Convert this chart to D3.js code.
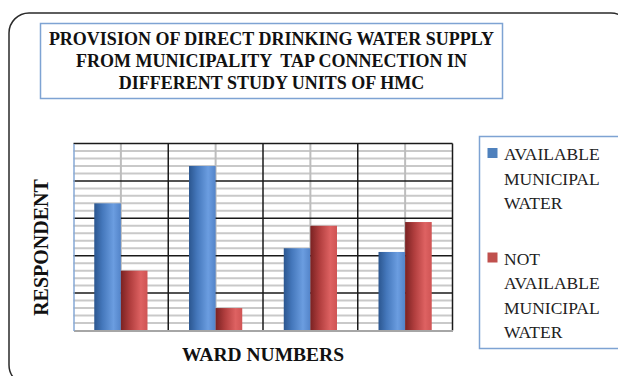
<!DOCTYPE html>
<html>
<head>
<meta charset="utf-8">
<script src="https://cdn.jsdelivr.net/npm/d3@7"></script>
<style>
  html, body { margin: 0; padding: 0; background: #fff; }
  svg { display: block; }
  .title-line { white-space: pre; }
</style>
</head>
<body>
<svg id="chart" width="618" height="376"></svg>
<script>
// Ward categories (no tick labels are printed on the axis)
const wards = ["Ward 1", "Ward 2", "Ward 3", "Ward 4"];
const seriesNames = ["AVAILABLE MUNICIPAL WATER", "NOT AVAILABLE MUNICIPAL WATER"];
// Share of respondents (%) per ward
const available = [68, 88, 44, 42];
const notAvailable = [32, 12, 56, 58];
const yMax = 100;
const majorStep = 20;
const minorStep = 4;

const titleLines = [
  "PROVISION OF DIRECT DRINKING WATER SUPPLY",
  "FROM MUNICIPALITY  TAP CONNECTION IN",
  "DIFFERENT STUDY UNITS OF HMC"
];
const legendLines = [
  ["AVAILABLE", "MUNICIPAL", "WATER"],
  ["NOT", "AVAILABLE", "MUNICIPAL", "WATER"]
];

const svg = d3.select("#chart");
const defs = svg.append("defs");

// Cylinder-like horizontal shading for the bars
function shade(id, stops) {
  const g = defs.append("linearGradient").attr("id", id)
    .attr("x1", "0%").attr("x2", "100%").attr("y1", "0%").attr("y2", "0%");
  stops.forEach(([o, c]) => g.append("stop").attr("offset", o).attr("stop-color", c));
}
shade("gBlue", [["0%", "#2b568f"], ["30%", "#4477bb"], ["72%", "#6b9de0"], ["100%", "#5384c9"]]);
shade("gRed", [["0%", "#7a2222"], ["35%", "#b13e3e"], ["75%", "#de6262"], ["100%", "#cf5454"]]);
const fills = ["url(#gBlue)", "url(#gRed)"];
const swatch = ["#4f81bd", "#c0504d"];

// Outer rounded frame
svg.append("rect")
  .attr("x", 9).attr("y", 13).attr("width", 622).attr("height", 372)
  .attr("rx", 20).attr("ry", 20)
  .attr("fill", "none").attr("stroke", "#2a2a2a").attr("stroke-width", 1.5);

// Title box
svg.append("rect")
  .attr("x", 40.5).attr("y", 23.5).attr("width", 462).attr("height", 75)
  .attr("fill", "#fff").attr("stroke", "#7ea3d3").attr("stroke-width", 1.5);
svg.append("g").selectAll("text").data(titleLines).join("text")
  .attr("class", "title-line")
  .attr("x", 271.5).attr("y", (d, i) => 45 + i * 22)
  .attr("text-anchor", "middle")
  .attr("font-family", "'Liberation Serif', 'DejaVu Serif', serif")
  .attr("font-weight", "bold").attr("font-size", 18)
  .attr("fill", "#111")
  .text(d => d);

// Plot area
const plot = { left: 73.5, right: 452.5, top: 143.5, bottom: 330.5 };

const x0 = d3.scaleBand().domain(wards).range([plot.left, plot.right]).padding(0);
const x1 = d3.scaleBand().domain([0, 1]).range([0, x0.bandwidth()])
  .paddingInner(0).paddingOuter(0.78);
const y = d3.scaleLinear().domain([0, yMax]).range([plot.bottom, plot.top]);

const grid = svg.append("g");
// Minor horizontal gridlines
grid.selectAll("line.minor").data(d3.range(0, yMax + 0.001, minorStep).filter(v => v % majorStep !== 0))
  .join("line").attr("class", "minor")
  .attr("x1", plot.left).attr("x2", plot.right)
  .attr("y1", d => y(d)).attr("y2", d => y(d))
  .attr("stroke", "#c9c9c9").attr("stroke-width", 2);
// Vertical gridlines through the middle of each ward
grid.selectAll("line.mid").data(wards).join("line").attr("class", "mid")
  .attr("x1", d => x0(d) + x0.bandwidth() / 2).attr("x2", d => x0(d) + x0.bandwidth() / 2)
  .attr("y1", plot.top).attr("y2", plot.bottom)
  .attr("stroke", "#bdbdbd").attr("stroke-width", 2);
// Major horizontal gridlines
grid.selectAll("line.major").data(d3.range(majorStep, yMax + 0.001, majorStep))
  .join("line").attr("class", "major")
  .attr("x1", plot.left).attr("x2", plot.right)
  .attr("y1", d => y(d)).attr("y2", d => y(d))
  .attr("stroke", "#1a1a1a").attr("stroke-width", 1.5);
// Ward boundaries
grid.selectAll("line.bound").data(wards.slice(1).concat(["end"]))
  .join("line").attr("class", "bound")
  .attr("x1", d => d === "end" ? plot.right : x0(d))
  .attr("x2", d => d === "end" ? plot.right : x0(d))
  .attr("y1", plot.top).attr("y2", plot.bottom)
  .attr("stroke", "#1a1a1a").attr("stroke-width", 1.5);

// Bars
const rows = wards.map((w, i) => ({ ward: w, values: [available[i], notAvailable[i]] }));
svg.append("g").selectAll("g").data(rows).join("g")
  .attr("transform", d => `translate(${x0(d.ward)},0)`)
  .selectAll("rect").data(d => d.values.map((v, k) => ({ v, k })))
  .join("rect")
  .attr("x", d => x1(d.k))
  .attr("width", x1.bandwidth())
  .attr("y", d => y(d.v))
  .attr("height", d => y(0) - y(d.v))
  .attr("fill", d => fills[d.k]);

// Axes
const xAxis = svg.append("g").attr("transform", `translate(0,${plot.bottom})`)
  .call(d3.axisBottom(x0).tickSize(0).tickFormat(""));
xAxis.select(".domain").attr("stroke", "#a6a6a6").attr("stroke-width", 2);
const yAxis = svg.append("g").attr("transform", `translate(${plot.left},0)`)
  .call(d3.axisLeft(y).tickValues([]).tickSize(0));
yAxis.select(".domain").attr("stroke", "#86a8d6").attr("stroke-width", 1.5);

// Axis titles
svg.append("text")
  .attr("transform", "translate(48,247.5) rotate(-90)")
  .attr("text-anchor", "middle")
  .attr("font-family", "'Liberation Serif', 'DejaVu Serif', serif")
  .attr("font-weight", "bold").attr("font-size", 20)
  .attr("fill", "#111")
  .text("RESPONDENT");
svg.append("text")
  .attr("x", 263).attr("y", 361)
  .attr("text-anchor", "middle")
  .attr("font-family", "'Liberation Serif', 'DejaVu Serif', serif")
  .attr("font-weight", "bold").attr("font-size", 19.5)
  .attr("fill", "#111")
  .text("WARD NUMBERS");

// Legend
svg.append("rect")
  .attr("x", 479.5).attr("y", 136.5).attr("width", 140).attr("height", 212)
  .attr("fill", "#fff").attr("stroke", "#7ea3d3").attr("stroke-width", 1.5);
const legendTop = [148, 252.5];
const lg = svg.append("g").selectAll("g").data(seriesNames).join("g");
lg.append("rect")
  .attr("x", 487.5).attr("y", (d, i) => legendTop[i])
  .attr("width", 10).attr("height", 10)
  .attr("fill", (d, i) => swatch[i]);
lg.selectAll("text").data((d, i) => legendLines[i].map(t => ({ t, i })))
  .join("text")
  .attr("x", 504)
  .attr("y", (d, j) => legendTop[d.i] + 12 + j * 24.5)
  .attr("font-family", "'Liberation Serif', 'DejaVu Serif', serif")
  .attr("font-size", 17.5)
  .attr("fill", "#222")
  .text(d => d.t);
</script>
</body>
</html>
